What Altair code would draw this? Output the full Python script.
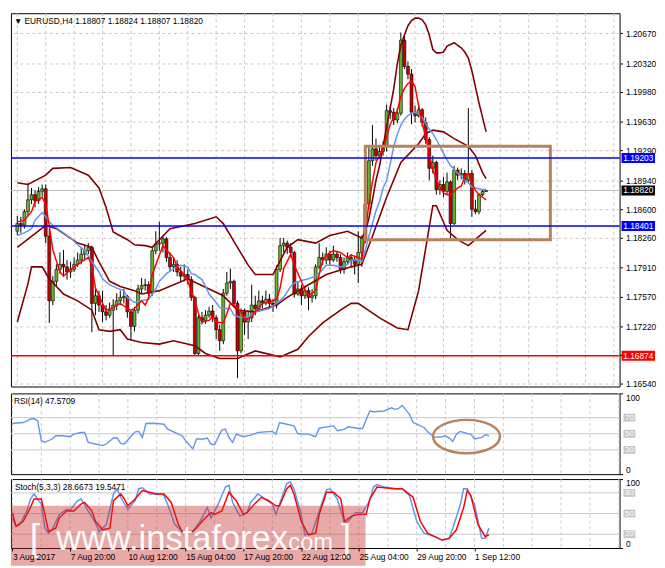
import altair as alt
import pandas as pd

FONT = "Liberation Sans"
W, H_MAIN, H_RSI, H_STO = 618, 379, 82, 70
X_DOMAIN = [-0.4, 168.2]
Y_MAIN = [1.16511, 1.20907]

header = "\u25BC EURUSD,H4  1.18807 1.18824 1.18807 1.18820"
rsi_title = "RSI(14) 47.5709"
sto_title = "Stoch(5,3,3) 28.6673 19.5471"

# ---------------- candles (H4 bars, index 0 = 3 Aug 2017) ----------------
opens = [1.1834, 1.1843, 1.1841, 1.1857, 1.1871, 1.1877, 1.1870, 1.1881, 1.1884, 1.1828,
         1.1752, 1.1775, 1.1789, 1.1795, 1.1792, 1.1786, 1.1789, 1.1795, 1.1800, 1.1807,
         1.1811, 1.1815, 1.1749, 1.1758, 1.1747, 1.1739, 1.1735, 1.1741, 1.1747, 1.1752,
         1.1756, 1.1757, 1.1739, 1.1722, 1.1741, 1.1766, 1.1770, 1.1771, 1.1761, 1.1811,
         1.1819, 1.1820, 1.1825, 1.1803, 1.1792, 1.1795, 1.1786, 1.1781, 1.1783, 1.1777,
         1.1756, 1.1690, 1.1732, 1.1729, 1.1735, 1.1740, 1.1732, 1.1718, 1.1705, 1.1761,
         1.1773, 1.1775, 1.1749, 1.1693, 1.1739, 1.1727, 1.1732, 1.1747, 1.1743, 1.1752,
         1.1750, 1.1754, 1.1749, 1.1747, 1.1789, 1.1817, 1.1820, 1.1815, 1.1809, 1.1760,
         1.1766, 1.1758, 1.1764, 1.1756, 1.1758, 1.1792, 1.1803, 1.1800, 1.1807, 1.1800,
         1.1807, 1.1803, 1.1789, 1.1798, 1.1803, 1.1800, 1.1795, 1.1809, 1.1826, 1.1866,
         1.1917, 1.1931, 1.1923, 1.1928, 1.1934, 1.1976, 1.1974, 1.1965, 1.1973, 1.2059,
         1.2028, 1.2019, 1.1974, 1.1970, 1.1977, 1.1962, 1.1942, 1.1908, 1.1915, 1.1883,
         1.1889, 1.1881, 1.1892, 1.1843, 1.1906, 1.1900, 1.1902, 1.1894, 1.1902, 1.1860,
         1.1857, 1.1877, 1.18807]
highs = [1.1852, 1.1851, 1.1860, 1.1891, 1.1885, 1.1882, 1.1886, 1.1889, 1.1889, 1.1837,
         1.1781, 1.1795, 1.1809, 1.1812, 1.1800, 1.1798, 1.1803, 1.1809, 1.1815, 1.1818,
         1.1820, 1.1817, 1.1769, 1.1764, 1.1764, 1.1747, 1.1750, 1.1754, 1.1761, 1.1764,
         1.1766, 1.1759, 1.1741, 1.1745, 1.1771, 1.1779, 1.1778, 1.1775, 1.1815, 1.1834,
         1.1845, 1.1829, 1.1827, 1.1809, 1.1803, 1.1800, 1.1792, 1.1795, 1.1789, 1.1781,
         1.1758, 1.1735, 1.1739, 1.1741, 1.1745, 1.1747, 1.1735, 1.1724, 1.1766, 1.1786,
         1.1790, 1.1777, 1.1752, 1.1743, 1.1743, 1.1739, 1.1771, 1.1758, 1.1764, 1.1758,
         1.1764, 1.1760, 1.1754, 1.1794, 1.1826, 1.1826, 1.1823, 1.1820, 1.1811, 1.1775,
         1.1771, 1.1770, 1.1768, 1.1766, 1.1795, 1.1820, 1.1809, 1.1815, 1.1811, 1.1817,
         1.1811, 1.1807, 1.1803, 1.1809, 1.1807, 1.1805, 1.1834, 1.1829, 1.1871, 1.1934,
         1.1959, 1.1943, 1.1934, 1.1940, 1.1983, 1.1982, 1.1979, 1.1979, 1.2068, 1.2065,
         1.2034, 1.2025, 1.1982, 1.1984, 1.1979, 1.1968, 1.1945, 1.1923, 1.1917, 1.1894,
         1.1898, 1.1903, 1.1894, 1.1911, 1.1909, 1.1908, 1.1906, 1.1979, 1.1906, 1.1871,
         1.1879, 1.1883, 1.18824]
lows = [1.1829, 1.1832, 1.1837, 1.1852, 1.1866, 1.1862, 1.1866, 1.1875, 1.1820, 1.1726,
        1.1747, 1.1769, 1.1784, 1.1781, 1.1777, 1.1779, 1.1786, 1.1792, 1.1795, 1.1800,
        1.1807, 1.1715, 1.1735, 1.1739, 1.1727, 1.1729, 1.1732, 1.1687, 1.1741, 1.1747,
        1.1749, 1.1732, 1.1707, 1.1716, 1.1737, 1.1761, 1.1764, 1.1754, 1.1758, 1.1807,
        1.1811, 1.1809, 1.1798, 1.1786, 1.1786, 1.1781, 1.1775, 1.1775, 1.1771, 1.1752,
        1.1687, 1.1687, 1.1724, 1.1725, 1.1732, 1.1727, 1.1707, 1.1693, 1.1701, 1.1758,
        1.1766, 1.1747, 1.1661, 1.1690, 1.1712, 1.1707, 1.1727, 1.1735, 1.1739, 1.1743,
        1.1747, 1.1743, 1.1739, 1.1743, 1.1786, 1.1809, 1.1807, 1.1803, 1.1756, 1.1758,
        1.1747, 1.1754, 1.1741, 1.1750, 1.1754, 1.1789, 1.1794, 1.1795, 1.1794, 1.1798,
        1.1798, 1.1784, 1.1784, 1.1794, 1.1793, 1.1783, 1.1773, 1.1792, 1.1820, 1.1860,
        1.1911, 1.1917, 1.1919, 1.1923, 1.1928, 1.1966, 1.1959, 1.1961, 1.1970, 1.2025,
        1.2013, 1.1960, 1.1962, 1.1968, 1.1957, 1.1937, 1.1894, 1.1902, 1.1877, 1.1877,
        1.1874, 1.1877, 1.1823, 1.1841, 1.1894, 1.1895, 1.1889, 1.1891, 1.1851, 1.1854,
        1.1854, 1.1875, 1.18807]
closes = [1.1843, 1.1841, 1.1857, 1.1871, 1.1877, 1.1870, 1.1881, 1.1884, 1.1828, 1.1752,
          1.1775, 1.1789, 1.1795, 1.1792, 1.1786, 1.1789, 1.1795, 1.1800, 1.1807, 1.1811,
          1.1815, 1.1749, 1.1758, 1.1747, 1.1739, 1.1735, 1.1741, 1.1747, 1.1752, 1.1756,
          1.1757, 1.1739, 1.1722, 1.1741, 1.1766, 1.1770, 1.1771, 1.1761, 1.1811, 1.1819,
          1.1820, 1.1825, 1.1803, 1.1792, 1.1795, 1.1786, 1.1781, 1.1783, 1.1777, 1.1756,
          1.1690, 1.1732, 1.1729, 1.1735, 1.1740, 1.1732, 1.1718, 1.1705, 1.1761, 1.1773,
          1.1775, 1.1749, 1.1693, 1.1739, 1.1727, 1.1732, 1.1747, 1.1743, 1.1752, 1.1750,
          1.1754, 1.1749, 1.1747, 1.1789, 1.1817, 1.1820, 1.1815, 1.1809, 1.1760, 1.1766,
          1.1758, 1.1764, 1.1756, 1.1758, 1.1792, 1.1803, 1.1800, 1.1807, 1.1800, 1.1807,
          1.1803, 1.1789, 1.1798, 1.1803, 1.1800, 1.1795, 1.1809, 1.1826, 1.1866, 1.1917,
          1.1931, 1.1923, 1.1928, 1.1934, 1.1976, 1.1974, 1.1965, 1.1973, 1.2059, 1.2028,
          1.2019, 1.1974, 1.1970, 1.1977, 1.1962, 1.1942, 1.1908, 1.1915, 1.1883, 1.1889,
          1.1881, 1.1892, 1.1843, 1.1906, 1.1900, 1.1902, 1.1894, 1.1902, 1.1860, 1.1857,
          1.1877, 1.18807, 1.18820]

# ---------------- indicator lines (bar index, value) ----------------
ma_fast_idx = [0, 2, 4, 5, 7, 8, 9, 10, 12, 13, 15, 16, 18, 20, 21, 22, 24, 25, 27, 29, 31, 32, 33, 35, 36, 37, 38,
               40, 41, 42, 44, 45, 47, 48, 50, 51, 52, 54, 55, 56, 58, 59, 60, 61, 63, 64, 66, 67, 69, 71, 73, 74,
               75, 77, 78, 80, 81, 82, 84, 85, 86, 88, 89, 91, 93, 94, 96, 97, 98, 99, 100, 101, 102, 103, 104,
               105, 106, 107, 108, 109, 110, 111, 112, 113, 114, 115, 116, 117, 118, 119, 120, 121, 122, 123,
               124, 125, 126, 127, 128, 129, 130, 131, 132]
ma_fast = [1.1845, 1.1847, 1.1857, 1.1869, 1.1874, 1.1866, 1.1840, 1.1812, 1.1786, 1.1781, 1.1789, 1.1792, 1.1798,
           1.1803, 1.1794, 1.1767, 1.1749, 1.1741, 1.1744, 1.1749, 1.1743, 1.1741, 1.1743, 1.1752, 1.1747, 1.1756,
           1.1783, 1.1806, 1.1817, 1.1812, 1.1803, 1.1792, 1.1783, 1.1775, 1.1752, 1.1737, 1.1727, 1.1729, 1.1733,
           1.1727, 1.1726, 1.1737, 1.1749, 1.1747, 1.1739, 1.1729, 1.1733, 1.1739, 1.1749, 1.1750, 1.1754, 1.1767,
           1.1790, 1.1807, 1.1794, 1.1775, 1.1764, 1.1758, 1.1764, 1.1783, 1.1800, 1.1809, 1.1811, 1.1809, 1.1803,
           1.1806, 1.1803, 1.1801, 1.1832, 1.1866, 1.1892, 1.1915, 1.1923, 1.1931, 1.1945, 1.1960, 1.1968, 1.1976,
           1.1993, 1.2002, 1.2008, 1.2011, 1.2004, 1.1982, 1.1962, 1.1945, 1.1925, 1.1906, 1.1895, 1.1886, 1.1879,
           1.1877, 1.1877, 1.1881, 1.1885, 1.1887, 1.1898, 1.1902, 1.1891, 1.1882, 1.1877, 1.1874, 1.1871]
ma_slow_idx = [0, 2, 4, 5, 7, 8, 9, 10, 12, 13, 15, 17, 19, 21, 23, 24, 26, 28, 30, 31, 33, 35, 37, 39, 40, 42, 44,
               46, 48, 49, 50, 52, 53, 54, 56, 57, 59, 60, 61, 63, 65, 66, 67, 69, 71, 73, 75, 77, 78, 80, 82, 84,
               86, 87, 89, 91, 93, 94, 96, 97, 98, 99, 100, 101, 102, 103, 104, 105, 106, 107, 108, 109, 110, 111,
               112, 113, 114, 115, 116, 117, 118, 119, 120, 121, 122, 123, 124, 125, 126, 127, 128, 129, 130, 131,
               132]
ma_slow = [1.1829, 1.1832, 1.1837, 1.1847, 1.1856, 1.1851, 1.1845, 1.1841, 1.1835, 1.1832, 1.1826, 1.1818, 1.1811,
           1.1798, 1.1786, 1.1778, 1.1771, 1.1767, 1.1764, 1.1756, 1.1750, 1.1752, 1.1754, 1.1766, 1.1775, 1.1784,
           1.1790, 1.1794, 1.1792, 1.1784, 1.1783, 1.1777, 1.1769, 1.1760, 1.1750, 1.1744, 1.1743, 1.1743, 1.1735,
           1.1732, 1.1733, 1.1735, 1.1739, 1.1741, 1.1743, 1.1749, 1.1756, 1.1769, 1.1773, 1.1776, 1.1778, 1.1781,
           1.1789, 1.1794, 1.1794, 1.1792, 1.1795, 1.1800, 1.1800, 1.1798, 1.1812, 1.1828, 1.1843, 1.1858, 1.1869,
           1.1885, 1.1894, 1.1913, 1.1934, 1.1948, 1.1959, 1.1966, 1.1970, 1.1973, 1.1974, 1.1972, 1.1968, 1.1961,
           1.1954, 1.1949, 1.1942, 1.1934, 1.1926, 1.1918, 1.1911, 1.1907, 1.1902, 1.1899, 1.1894, 1.1891, 1.1886,
           1.1885, 1.1884, 1.1883, 1.1883]
bb_up_idx = [0, 3, 8, 10, 15, 20, 23, 25, 27, 31, 33, 36, 38, 40, 43, 50, 56, 58, 62, 65, 67, 72, 76, 79, 84, 88,
             93, 97, 98, 99, 100, 101, 102, 103, 104, 105, 106, 107, 108, 109, 110, 111, 112, 113, 114, 115, 116,
             117, 118, 119, 120, 121, 122, 123, 124, 125, 126, 127, 128, 129, 130, 131, 132]
bb_up = [1.1891, 1.1889, 1.1900, 1.1908, 1.1909, 1.1900, 1.1885, 1.1862, 1.1833, 1.1824, 1.1818, 1.1817, 1.1815,
         1.1824, 1.1837, 1.1843, 1.1851, 1.1843, 1.1815, 1.1794, 1.1783, 1.1783, 1.1815, 1.1824, 1.1820, 1.1829,
         1.1834, 1.1826, 1.1834, 1.1849, 1.1871, 1.1894, 1.1911, 1.1934, 1.1957, 1.1979, 1.2002, 1.2031, 1.2053,
         1.2065, 1.2076, 1.2082, 1.2085, 1.2085, 1.2083, 1.2077, 1.2065, 1.2048, 1.2044, 1.2044, 1.2045, 1.2052,
         1.2054, 1.2056, 1.2053, 1.2050, 1.2045, 1.2038, 1.2023, 1.2004, 1.1985, 1.1968, 1.1951]
bb_mid_idx = [0, 8, 11, 17, 21, 23, 26, 29, 33, 35, 40, 48, 58, 62, 67, 73, 76, 82, 87, 94, 97, 100, 104, 108, 113,
              115, 117, 120, 123, 127, 129, 131, 132]
bb_mid = [1.1815, 1.1841, 1.1837, 1.1820, 1.1815, 1.1798, 1.1775, 1.1769, 1.1764, 1.1760, 1.1764, 1.1778, 1.1758,
          1.1741, 1.1739, 1.1747, 1.1756, 1.1771, 1.1783, 1.1792, 1.1795, 1.1828, 1.1874, 1.1915, 1.1937, 1.1949,
          1.1953, 1.1951, 1.1943, 1.1934, 1.1923, 1.1903, 1.1896]
bb_lo_idx = [0, 3, 4, 7, 9, 13, 17, 21, 23, 26, 29, 31, 35, 40, 44, 50, 53, 57, 62, 67, 74, 79, 82, 86, 91, 94, 96,
             102, 107, 110, 113, 117, 118, 121, 124, 127, 130, 132]
bb_lo = [1.1727, 1.1772, 1.1792, 1.1792, 1.1778, 1.1760, 1.1752, 1.1741, 1.1718, 1.1716, 1.1718, 1.1707, 1.1703,
         1.1701, 1.1705, 1.1699, 1.1690, 1.1684, 1.1684, 1.1693, 1.1686, 1.1695, 1.1710, 1.1726, 1.1741, 1.1749,
         1.1749, 1.1732, 1.1720, 1.1718, 1.1764, 1.1864, 1.1864, 1.1835, 1.1824, 1.1817, 1.1828, 1.1835]

rsi_idx = [0, 3, 5, 6, 7, 8, 9, 11, 12, 14, 16, 17, 19, 20, 21, 23, 25, 26, 28, 29, 30, 31, 33, 34, 35, 36, 37, 39,
           40, 42, 43, 45, 46, 47, 48, 50, 51, 53, 54, 55, 56, 58, 59, 60, 61, 62, 64, 66, 68, 70, 72, 73, 74, 76,
           78, 79, 80, 82, 84, 85, 87, 89, 90, 92, 93, 96, 97, 99, 100, 103, 105, 106, 107, 108, 110, 111, 112,
           114, 115, 116, 117, 119, 120, 121, 122, 123, 124, 126, 127, 128, 130, 131, 132]
rsi = [62.7, 63.9, 68, 68.8, 66, 41.4, 39.4, 43.5, 47.6, 47.6, 46.3, 49.6, 51.6, 51.6, 39.4, 37.3, 35.3, 37.3,
       44.7, 44.7, 38.2, 37.3, 47.6, 52.4, 52.9, 45.5, 62.7, 63, 62.7, 61.8, 55.7, 51.6, 49.6, 47.6, 41.4, 31.2,
       43.5, 43.5, 44.7, 37.3, 36.5, 54.5, 55.7, 45.5, 39.4, 49.6, 46.3, 48.4, 51.6, 52.4, 52.9, 49.6, 63.9, 61.8,
       59.8, 50.4, 49.6, 49.6, 46.3, 56.9, 58.6, 59.8, 53.7, 55.7, 58.6, 56.5, 56.5, 78.2, 77.3, 78.2, 82.2, 80.2,
       81.4, 85.1, 74.1, 63.9, 61.8, 57.8, 52.9, 48.8, 45.5, 46.3, 47.6, 44.7, 40.6, 49.6, 52.9, 50.4, 49.6, 43.5,
       45.5, 48.8, 47.57]

sto_k_idx = [0, 1, 2, 4, 5, 6, 8, 9, 10, 11, 13, 15, 16, 18, 19, 21, 23, 24, 26, 28, 29, 30, 32, 34, 35, 36, 38, 41,
             42, 43, 45, 47, 49, 50, 52, 54, 55, 57, 59, 60, 61, 63, 65, 66, 68, 70, 72, 73, 74, 76, 77, 78, 80,
             81, 83, 85, 87, 88, 90, 92, 93, 95, 97, 99, 100, 101, 103, 106, 108, 110, 112, 114, 117, 119, 121,
             122, 124, 125, 126, 128, 130, 131, 132]
sto_k = [43.8, 31.4, 33.9, 53.7, 71.1, 78.5, 63.6, 28.9, 21.5, 26.4, 48.8, 56.2, 54.7, 68.6, 71.1, 53.7, 36.4, 24,
         33.9, 78.5, 86, 73.6, 56.2, 68.6, 86, 87.4, 78.5, 78.5, 76, 63.6, 33.9, 24, 21.5, 24, 38.8, 58.7, 43.8,
         63.6, 88.4, 90.9, 66.1, 46.3, 51.2, 66.1, 78.5, 71.1, 63.6, 48.8, 63.6, 93.4, 95.9, 86, 48.8, 19, 21.5,
         53.7, 84.5, 86, 71.1, 36.4, 38.8, 51.2, 51.2, 68.6, 88.4, 91.9, 88.4, 86, 86, 76, 38.8, 21.5, 16.5, 11.5,
         14, 28.9, 61.2, 86, 86, 63.6, 14, 14, 28.67]
sto_d_idx = [0, 1, 3, 5, 6, 8, 9, 10, 12, 13, 15, 17, 19, 20, 22, 23, 25, 27, 28, 30, 31, 32, 34, 36, 38, 40, 42,
             44, 46, 47, 50, 51, 53, 55, 56, 58, 60, 62, 64, 65, 67, 69, 71, 73, 74, 76, 77, 78, 80, 82, 84, 85,
             87, 89, 91, 92, 94, 96, 98, 99, 101, 103, 106, 108, 111, 113, 115, 117, 119, 121, 123, 125, 126, 127,
             129, 131, 132]
sto_d = [51.2, 31.4, 38.8, 58.7, 71.1, 71.1, 48.8, 24, 28.9, 43.8, 53.7, 53.7, 63.6, 66.1, 53.7, 38.8, 26.4, 28.9,
         68.6, 78.5, 71.1, 61.2, 71.1, 83.5, 81, 78.5, 78.5, 66.1, 33.9, 24, 24, 28.9, 41.3, 51.2, 48.8, 53.7, 81,
         68.6, 48.8, 51.2, 63.6, 73.6, 68.6, 61.2, 61.2, 86, 90.9, 78.5, 38.8, 19, 21.5, 48.8, 81, 81, 71.1, 38.8,
         46.3, 48.8, 48.8, 71.1, 88.4, 87.4, 86, 86, 73.6, 38.8, 21.5, 16.5, 11.5, 14, 26.4, 58.7, 83.5, 76, 33.9,
         16.5, 19.55]

# ---------------- axes, levels, annotations ----------------
price_ticks = [1.20670, 1.20320, 1.19980, 1.19630, 1.19290, 1.18940, 1.18600, 1.18260, 1.17910, 1.17570,
               1.17220, 1.16880, 1.16540]
hidden_tick = 1.16880          # covered by the red level label in the reference
grid_idx = list(range(0, 169, 8))
date_idx = [0, 16, 32, 48, 64, 80, 96, 112, 128]
date_labels = ["3 Aug 2017", "7 Aug 20:00", "10 Aug 12:00", "15 Aug 04:00", "17 Aug 20:00",
               "22 Aug 12:00", "25 Aug 04:00", "29 Aug 20:00", "1 Sep 12:00"]
level_prices = [1.19203, 1.18401, 1.16874]
level_colors = ["#0000ff", "#0000ff", "#ff0000"]
current_price = 1.18820
rsi_levels = [70, 50, 30]
sto_levels = [80, 50, 20]
box_x = [98.0, 150.1]          # brown rectangle, bar index range
box_y = [1.1934, 1.1824]       # brown rectangle, price range
ellipse_at = [125.8, 46.5]     # RSI ellipse centre (bar index, RSI)

BULL, BEAR = "#66b22a", "#cc0000"
MAROON, BROWN = "#800000", "#b8825c"
BLUE_IND = "#6495ed"

xscale = alt.Scale(domain=X_DOMAIN, nice=False, zero=False)


def xenc(field, axis=None):
    return alt.X(field, scale=xscale, axis=axis, title=None)


main_axis = alt.Axis(orient="right", values=price_ticks, format=".5f", grid=True, gridColor="#c8c8c8",
                     gridDash=[3, 3], tickSize=3, labelPadding=3, domain=False, title=None, labelOverlap=False,
                     labelExpr="abs(datum.value - %s) < 0.000001 ? '' : datum.label" % hidden_tick)
main_scale = alt.Scale(domain=Y_MAIN, nice=False, zero=False)


def ymain(field):
    return alt.Y(field, scale=main_scale, axis=main_axis, title=None)


osc_axis = alt.Axis(orient="right", values=[0, 100], labelFlush=True, grid=False, tickSize=3, labelPadding=3,
                    domain=False, title=None)
osc_scale = alt.Scale(domain=[0, 100], nice=False, zero=False)


def yosc(field):
    return alt.Y(field, scale=osc_scale, axis=osc_axis, title=None)


BOX_PATH = "M-1,-0.3L1,-0.3L1,0.3L-1,0.3Z"
SMALL_BOX = "M-1,-0.67L1,-0.67L1,0.67L-1,0.67Z"
ELLIPSE = "M-1,0A1,0.5,0,1,0,1,0A1,0.5,0,1,0,-1,0Z"

bars = pd.DataFrame({"i": list(range(len(opens))), "open": opens, "high": highs, "low": lows, "close": closes})
grid_df = pd.DataFrame({"g": grid_idx})


def line_df(idx, vals):
    return pd.DataFrame({"i": idx, "v": vals})


vgrid = alt.Chart(grid_df).mark_rule(color="#c8c8c8", strokeDash=[3, 3], strokeWidth=1)

# ---------------- main panel ----------------
cur_df = pd.DataFrame({"price": [current_price]})
lvl_df = pd.DataFrame({"price": level_prices, "c": level_colors})
lbl_df = pd.DataFrame({"price": level_prices + [current_price],
                       "c": level_colors + ["#000000"]})
lbl_df["t"] = [f"{p:.5f}" for p in lbl_df["price"]]
rect_df = pd.DataFrame({"x1": [box_x[0]], "x2": [box_x[1]], "y1": [box_y[0]], "y2": [box_y[1]]})

main_layers = [
    vgrid.encode(x=xenc("g:Q")),
    alt.Chart(cur_df).mark_rule(color="#c0c0c0", strokeWidth=1).encode(y=ymain("price:Q")),
    alt.Chart(bars).mark_rule(color="black", strokeWidth=1).encode(
        x=xenc("i:Q"), y=ymain("low:Q"), y2="high:Q"),
    alt.Chart(bars).mark_bar(width=3, stroke="black", strokeWidth=0.6).encode(
        x=xenc("i:Q"), y=ymain("open:Q"), y2="close:Q",
        color=alt.condition("datum.close >= datum.open", alt.value(BULL), alt.value(BEAR))),
]
for idx, vals in [(bb_up_idx, bb_up), (bb_mid_idx, bb_mid), (bb_lo_idx, bb_lo)]:
    main_layers.append(alt.Chart(line_df(idx, vals)).mark_line(color=MAROON, strokeWidth=1.6, clip=True).encode(
        x=xenc("i:Q"), y=ymain("v:Q")))
main_layers += [
    alt.Chart(line_df(ma_slow_idx, ma_slow)).mark_line(color=BLUE_IND, strokeWidth=1.5, clip=True).encode(
        x=xenc("i:Q"), y=ymain("v:Q")),
    alt.Chart(line_df(ma_fast_idx, ma_fast)).mark_line(color="#ff0000", strokeWidth=1.5, clip=True).encode(
        x=xenc("i:Q"), y=ymain("v:Q")),
    alt.Chart(rect_df).mark_rect(fillOpacity=0, stroke=BROWN, strokeWidth=3).encode(
        x=xenc("x1:Q"), x2="x2:Q", y=ymain("y1:Q"), y2="y2:Q"),
    alt.Chart(lvl_df).mark_rule(strokeWidth=1.5).encode(
        y=ymain("price:Q"), color=alt.Color("c:N", scale=None)),
    alt.Chart(lbl_df).mark_point(shape=BOX_PATH, size=1156, filled=True, opacity=1).encode(
        x=alt.value(W + 19), y=ymain("price:Q"), color=alt.Color("c:N", scale=None)),
    alt.Chart(lbl_df).mark_text(color="white", fontSize=8.5, font=FONT, align="center", baseline="middle").encode(
        x=alt.value(W + 19), y=ymain("price:Q"), text="t:N"),
    alt.Chart(pd.DataFrame({"t": [header]})).mark_text(
        align="left", baseline="middle", fontSize=8.5, font=FONT, color="black").encode(
        x=alt.value(3), y=alt.value(8), text="t:N"),
]
main = alt.layer(*main_layers).properties(width=W, height=H_MAIN)


def osc_level_layers(levels):
    df = pd.DataFrame({"v": levels, "t": [str(v) for v in levels]})
    return [
        alt.Chart(df).mark_point(shape=SMALL_BOX, size=144, filled=True, opacity=1, color="#c8c8c8").encode(
            x=alt.value(W + 10), y=yosc("v:Q")),
        alt.Chart(df).mark_text(color="white", fontSize=8, font=FONT, align="center", baseline="middle").encode(
            x=alt.value(W + 10), y=yosc("v:Q"), text="t:N"),
    ]


# ---------------- RSI panel ----------------
rsi_lvl_df = pd.DataFrame({"v": rsi_levels})
rsi_layers = [
    vgrid.encode(x=xenc("g:Q")),
    alt.Chart(rsi_lvl_df).mark_rule(color="#c8c8c8", strokeWidth=1).encode(y=yosc("v:Q")),
    alt.Chart(line_df(rsi_idx, rsi)).mark_line(color=BLUE_IND, strokeWidth=1.4).encode(
        x=xenc("i:Q"), y=yosc("v:Q")),
    alt.Chart(pd.DataFrame({"i": [ellipse_at[0]], "v": [ellipse_at[1]]})).mark_point(
        shape=ELLIPSE, size=4624, filled=False, color=BROWN, strokeWidth=2.5, opacity=1).encode(
        x=xenc("i:Q"), y=yosc("v:Q")),
] + osc_level_layers(rsi_levels) + [
    alt.Chart(pd.DataFrame({"t": [rsi_title]})).mark_text(
        align="left", baseline="middle", fontSize=8.5, font=FONT, color="black").encode(
        x=alt.value(3), y=alt.value(8), text="t:N"),
]
rsi_chart = alt.layer(*rsi_layers).properties(width=W, height=H_RSI)

# ---------------- Stochastic panel ----------------
label_expr = ("[" + ",".join("'%s'" % s for s in date_labels) + "][indexof(["
              + ",".join(str(v) for v in date_idx) + "], datum.value)]")
sto_x_axis = alt.Axis(values=date_idx, labelExpr=label_expr, labelAlign="left", labelPadding=2, tickSize=3,
                      domain=False, grid=False, labelFlush=False, labelOverlap=False, zindex=1, title=None)
one = pd.DataFrame({"a": [0]})
sto_lvl_df = pd.DataFrame({"v": sto_levels})
sto_layers = [
    vgrid.encode(x=xenc("g:Q", sto_x_axis)),
    alt.Chart(sto_lvl_df).mark_rule(color="#c8c8c8", strokeWidth=1).encode(y=yosc("v:Q")),
    alt.Chart(line_df(sto_k_idx, sto_k)).mark_line(color=BLUE_IND, strokeWidth=1.5).encode(
        x=xenc("i:Q", sto_x_axis), y=yosc("v:Q")),
    alt.Chart(line_df(sto_d_idx, sto_d)).mark_line(color="#ff0000", strokeWidth=1.5).encode(
        x=xenc("i:Q", sto_x_axis), y=yosc("v:Q")),
    # watermark
    alt.Chart(one).mark_rect(color="#c83232", opacity=0.42).encode(
        x=alt.value(0), x2=alt.value(360), y=alt.value(27), y2=alt.value(88)),
    alt.Chart(pd.DataFrame({"t": ["[", "www.instaforex", ".com", "]"], "px": [19, 46, 275, 335],
                            "fs": [38, 35, 24, 38]})).mark_text(
        align="left", baseline="alphabetic", font=FONT, color="white", opacity=0.95).encode(
        x=alt.X("px:Q", scale=None, axis=None), y=alt.value(72), text="t:N",
        size=alt.Size("fs:Q", scale=None, legend=None)),
] + osc_level_layers(sto_levels) + [
    alt.Chart(pd.DataFrame({"t": [sto_title]})).mark_text(
        align="left", baseline="middle", fontSize=8.5, font=FONT, color="black").encode(
        x=alt.value(4), y=alt.value(8), text="t:N"),
]
sto_chart = alt.layer(*sto_layers).properties(width=W, height=H_STO)

chart = (
    alt.vconcat(main, rsi_chart, sto_chart, spacing=3)
    .configure(background="white", padding=0, font=FONT)
    .configure_view(stroke="black", strokeWidth=1)
    .configure_axis(labelFont=FONT, labelFontSize=8.5, labelColor="black", tickColor="black")
)

chart.save("out.html", embed_options={"renderer": "svg", "actions": False})
